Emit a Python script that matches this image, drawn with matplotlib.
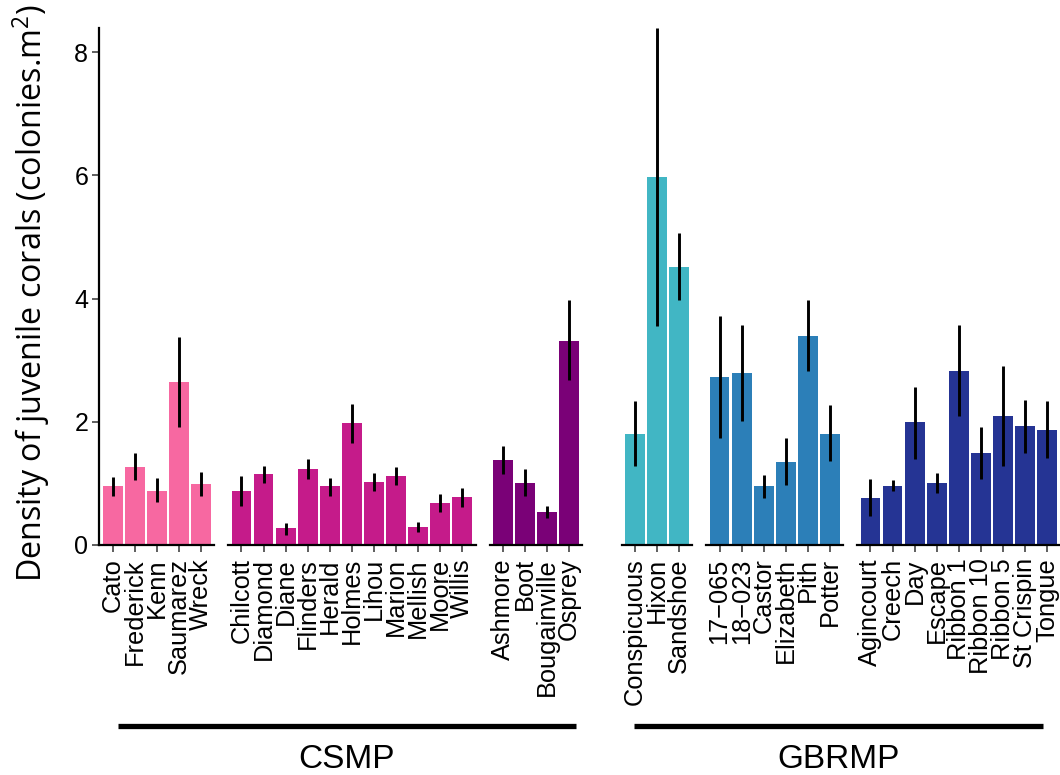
import matplotlib
matplotlib.use("Agg")
import matplotlib.pyplot as plt
from matplotlib.lines import Line2D

plt.rcParams['font.family'] = ['Liberation Sans', 'DejaVu Sans']
plt.rcParams['mathtext.fontset'] = 'custom'
plt.rcParams['mathtext.rm'] = 'Open Sans'

# reefs, one facet after another (CSMP: 3 facets, GBRMP: 3 facets)
reefs = ["Cato", "Frederick", "Kenn", "Saumarez", "Wreck",
         "Chilcott", "Diamond", "Diane", "Flinders", "Herald", "Holmes",
         "Lihou", "Marion", "Mellish", "Moore", "Willis",
         "Ashmore", "Boot", "Bougainville", "Osprey",
         "Conspicuous", "Hixon", "Sandshoe",
         "17\u2212065", "18\u2212023", "Castor", "Elizabeth", "Pith", "Potter",
         "Agincourt", "Creech", "Day", "Escape", "Ribbon 1", "Ribbon 10",
         "Ribbon 5", "St Crispin", "Tongue"]
density = [0.95, 1.27, 0.88, 2.65, 0.99,
           0.88, 1.15, 0.27, 1.23, 0.96, 1.98,
           1.02, 1.12, 0.29, 0.68, 0.78,
           1.38, 1.00, 0.53, 3.32,
           1.81, 5.98, 4.52,
           2.73, 2.80, 0.95, 1.35, 3.40, 1.81,
           0.77, 0.96, 1.99, 1.01, 2.83, 1.50,
           2.10, 1.94, 1.87]
err_low = [0.79, 1.06, 0.69, 1.92, 0.80,
           0.63, 1.01, 0.17, 1.07, 0.80, 1.66,
           0.87, 0.97, 0.21, 0.53, 0.62,
           1.16, 0.79, 0.44, 2.68,
           1.29, 3.55, 3.98,
           1.74, 2.02, 0.77, 0.97, 2.83, 1.36,
           0.47, 0.88, 1.40, 0.85, 2.10, 1.07,
           1.29, 1.50, 1.42]
err_high = [1.10, 1.49, 1.08, 3.37, 1.18,
            1.12, 1.29, 0.36, 1.40, 1.09, 2.29,
            1.17, 1.27, 0.38, 0.83, 0.93,
            1.60, 1.23, 0.63, 3.97,
            2.33, 8.40, 5.07,
            3.72, 3.57, 1.13, 1.73, 3.97, 2.27,
            1.07, 1.06, 2.56, 1.17, 3.57, 1.92,
            2.91, 2.36, 2.33]
facet_sizes = [5, 11, 4, 3, 6, 9]
facet_colours = ["#F768A1", "#C51B8A", "#7A0177", "#41B6C4", "#2C7FB8", "#253494"]
regions = ["CSMP", "GBRMP"]

W, H = 1060, 775
fig = plt.figure(figsize=(W / 100, H / 100), dpi=100)

# panel geometry in pixels
unit = 22.08
x_start = 99.4
y_base, y_top = 545.0, 27.6
gaps = [14, 14, 39.4, 14, 14]

left = x_start
start = 0
for i, n in enumerate(facet_sizes):
    width = (n + 0.2) * unit
    ax = fig.add_axes([left / W, (H - y_base) / H, width / W, (y_base - y_top) / H])
    idx = range(start, start + n)
    xs = list(range(n))
    ax.bar(xs, [density[j] for j in idx], width=0.9, color=facet_colours[i], zorder=2)
    ax.vlines(xs, [err_low[j] for j in idx], [err_high[j] for j in idx],
              color="black", lw=2.1, zorder=3, capstyle="butt")
    ax.set_xlim(-0.6, n - 0.4)
    ax.set_ylim(0, 8.4)
    ax.set_xticks(xs)
    ax.set_xticklabels([reefs[j] for j in idx], rotation=90, fontsize=18.3)
    for s in ["top", "right"]:
        ax.spines[s].set_visible(False)
    ax.spines["bottom"].set_linewidth(1.6)
    ax.tick_params(axis="x", length=5, width=1.1, color="#333333", pad=4.5)
    if i == 0:
        ax.spines["left"].set_linewidth(1.6)
        ax.set_yticks([0, 2, 4, 6, 8])
        ax.tick_params(axis="y", length=5, width=1.1, color="#333333",
                       labelsize=18, pad=3)
    else:
        ax.spines["left"].set_visible(False)
        ax.tick_params(axis="y", left=False, labelleft=False)
    ax.patch.set_visible(False)
    left += width + (gaps[i] if i < len(gaps) else 0)
    start += n

fig.text(31 / W, 1 - 293 / H, "Density of juvenile corals (colonies.m$^{2}$)",
         rotation=90, ha="center", va="center", fontsize=23.2, family="Open Sans")

# region brackets below the reef names
line_y = 1 - 725.7 / H
for (x0, x1), name in zip([(117.7, 576.0), (634.3, 1043.3)], regions):
    fig.add_artist(Line2D([x0 / W, x1 / W], [line_y, line_y], color="black",
                          lw=3.8, solid_capstyle="butt"))
    fig.text((x0 + x1) / 2 / W, 1 - 760 / H, name, ha="center", va="center",
             fontsize=24)

fig.savefig("out.png", dpi=100)
